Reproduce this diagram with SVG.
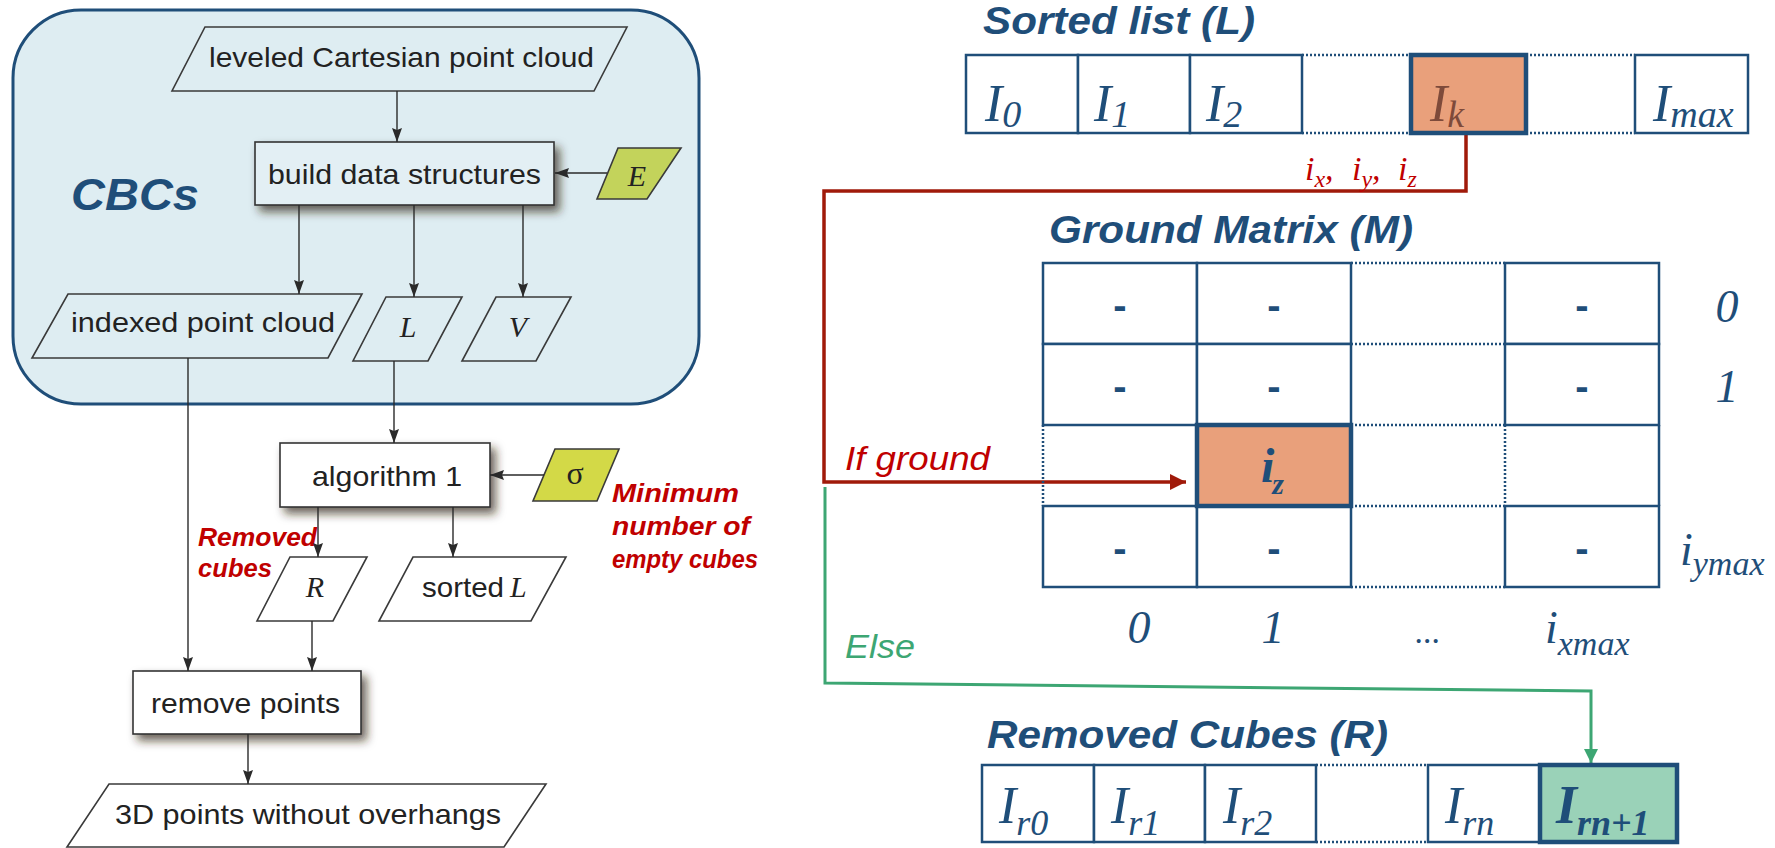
<svg xmlns="http://www.w3.org/2000/svg" width="1775" height="848" viewBox="0 0 1775 848">
<style>
.t{font-family:"Liberation Sans",Arial,sans-serif;font-size:28px;fill:#222}
.m{font-family:"Liberation Serif","Times New Roman",serif;font-style:italic;font-size:30px;fill:#222}
.para{fill:#deedf2;stroke:#3a3a3a;stroke-width:1.6}
.paraw{fill:#fff;stroke:#3a3a3a;stroke-width:1.6}
.box{fill:#fff;stroke:#333;stroke-width:1.6}
.conn{fill:none;stroke:#2a2a2a;stroke-width:1.4}
.red{font-family:"Liberation Sans",Arial,sans-serif;font-weight:bold;font-style:italic;fill:#c00000}
.title{font-family:"Liberation Sans",Arial,sans-serif;font-weight:bold;font-style:italic;font-size:39px;fill:#1f4e79}
.cell{fill:#fff;stroke:#1f4e79;stroke-width:2.5}
.dot{fill:none;stroke:#1f4e79;stroke-width:2.5;stroke-dasharray:2 2}
.I{font-family:"Liberation Serif","Times New Roman",serif;font-style:italic;font-size:52px;fill:#1f4e79}
.ax{font-family:"Liberation Serif","Times New Roman",serif;font-style:italic;font-size:46px;fill:#1f4e79}
.dash{font-family:"Liberation Sans",Arial,sans-serif;font-weight:bold;font-size:40px;fill:#1f4e79;text-anchor:middle}
.idx{font-family:"Liberation Serif","Times New Roman",serif;font-style:italic;font-size:34px;fill:#c00000}
</style>
<defs>
<marker id="ah" markerUnits="userSpaceOnUse" markerWidth="14" markerHeight="10" refX="14" refY="5" orient="auto">
<path d="M0,0 L14,5 L0,10 L2,5 z" fill="#2a2a2a"/>
</marker>
<marker id="ahr" markerUnits="userSpaceOnUse" markerWidth="16" markerHeight="16" refX="16" refY="8" orient="auto">
<path d="M0,0 L16,8 L0,16 z" fill="#a01a0a"/>
</marker>
<marker id="ahg" markerUnits="userSpaceOnUse" markerWidth="14" markerHeight="14" refX="14" refY="7" orient="auto">
<path d="M0,0 L14,7 L0,14 z" fill="#3da673"/>
</marker>
<filter id="sh" x="-20%" y="-30%" width="150%" height="180%">
<feDropShadow dx="5" dy="6" stdDeviation="5" flood-color="#2e2416" flood-opacity="0.7"/>
</filter>
</defs>

<g id="cbcs">
<rect x="13" y="10" width="686" height="394" rx="68" fill="#deedf2" stroke="#1f4e79" stroke-width="3"/>
<text x="71" y="210" class="red" style="fill:#1f4e79;font-size:44px" textLength="128" lengthAdjust="spacingAndGlyphs">CBCs</text>
</g>

<g id="leveled">
<polygon class="para" points="205,27 627,27 594,91 172,91"/>
<text class="t" x="209" y="67" textLength="385" lengthAdjust="spacingAndGlyphs">leveled Cartesian point cloud</text>
</g>

<g id="build">
<rect x="255" y="142" width="299" height="63" fill="#e3eff4" stroke="#333" stroke-width="1.6" filter="url(#sh)"/>
<text class="t" x="268" y="184" textLength="273" lengthAdjust="spacingAndGlyphs">build data structures</text>
</g>

<g id="E">
<polygon points="618,148 681,148 647,199 597,199" fill="#c3d35b" stroke="#3a3a3a" stroke-width="1.6"/>
<text class="m" x="637" y="186" text-anchor="middle">E</text>
</g>

<g id="indexed">
<polygon class="para" points="68,294 362,294 328,358 32,358"/>
<text class="t" x="71" y="332" textLength="264" lengthAdjust="spacingAndGlyphs">indexed point cloud</text>
</g>

<g id="Lnode">
<polygon class="para" points="386,297 462,297 428,361 353,361"/>
<text class="m" x="408" y="337" text-anchor="middle">L</text>
</g>

<g id="Vnode">
<polygon class="para" points="496,297 571,297 536,361 462,361"/>
<text class="m" x="518" y="337" text-anchor="middle">V</text>
</g>

<g id="algorithm">
<rect x="280" y="443" width="210" height="64" class="box" filter="url(#sh)"/>
<text class="t" x="312" y="486" textLength="150" lengthAdjust="spacingAndGlyphs">algorithm 1</text>
</g>

<g id="sigma">
<polygon points="555,449 619,449 597,501 533,501" fill="#d3d947" stroke="#3a3a3a" stroke-width="1.6"/>
<text x="575" y="484" text-anchor="middle" style="font-family:'Liberation Serif',serif;font-size:32px;fill:#222">σ</text>
</g>

<g id="minimum-label">
<text class="red" x="612" y="502" style="font-size:26px" textLength="127" lengthAdjust="spacingAndGlyphs">Minimum</text>
<text class="red" x="612" y="535" style="font-size:26px" textLength="138" lengthAdjust="spacingAndGlyphs">number of</text>
<text class="red" x="612" y="568" style="font-size:26px" textLength="146" lengthAdjust="spacingAndGlyphs">empty cubes</text>
</g>

<g id="removed-label">
<text class="red" x="198" y="546" style="font-size:25px" textLength="119" lengthAdjust="spacingAndGlyphs">Removed</text>
<text class="red" x="198" y="577" style="font-size:25px" textLength="74" lengthAdjust="spacingAndGlyphs">cubes</text>
</g>

<g id="Rnode">
<polygon class="paraw" points="290,557 367,557 333,621 257,621"/>
<text class="m" x="315" y="597" text-anchor="middle">R</text>
</g>

<g id="sortedL">
<polygon class="paraw" points="413,557 566,557 531,621 379,621"/>
<text class="t" x="422" y="597" textLength="82" lengthAdjust="spacingAndGlyphs">sorted</text>
<text class="m" x="510" y="597">L</text>
</g>

<g id="remove">
<rect x="133" y="671" width="228" height="63" class="box" filter="url(#sh)"/>
<text class="t" x="151" y="713" textLength="189" lengthAdjust="spacingAndGlyphs">remove points</text>
</g>

<g id="output">
<polygon class="paraw" points="109,784 546,784 504,847 67,847"/>
<text class="t" x="115" y="824" textLength="386" lengthAdjust="spacingAndGlyphs">3D points without overhangs</text>
</g>

<g id="connectors">
<line class="conn" x1="397" y1="91" x2="397" y2="142" marker-end="url(#ah)"/>
<line class="conn" x1="607" y1="173" x2="555" y2="173" marker-end="url(#ah)"/>
<line class="conn" x1="299" y1="205" x2="299" y2="294" marker-end="url(#ah)"/>
<line class="conn" x1="414" y1="205" x2="414" y2="297" marker-end="url(#ah)"/>
<line class="conn" x1="523" y1="205" x2="523" y2="297" marker-end="url(#ah)"/>
<line class="conn" x1="188" y1="358" x2="188" y2="671" marker-end="url(#ah)"/>
<line class="conn" x1="394" y1="361" x2="394" y2="443" marker-end="url(#ah)"/>
<line class="conn" x1="544" y1="475" x2="490" y2="475" marker-end="url(#ah)"/>
<line class="conn" x1="318" y1="507" x2="318" y2="557" marker-end="url(#ah)"/>
<line class="conn" x1="453" y1="507" x2="453" y2="557" marker-end="url(#ah)"/>
<line class="conn" x1="312" y1="621" x2="312" y2="671" marker-end="url(#ah)"/>
<line class="conn" x1="248" y1="734" x2="248" y2="784" marker-end="url(#ah)"/>
<path d="M1466,135 V191 H824 V482 H1186" fill="none" stroke="#a01a0a" stroke-width="3.5" marker-end="url(#ahr)"/>
<path d="M825,487 V683 L1591,691 V763" fill="none" stroke="#3da673" stroke-width="3" marker-end="url(#ahg)"/>
</g>

<g id="sorted-list">
<text class="title" x="983" y="34" textLength="272" lengthAdjust="spacingAndGlyphs">Sorted list (L)</text>
<rect class="cell" x="966" y="55" width="112" height="78"/>
<rect class="cell" x="1078" y="55" width="112" height="78"/>
<rect class="cell" x="1190" y="55" width="112" height="78"/>
<line class="dot" x1="1302" y1="55" x2="1411" y2="55"/>
<line class="dot" x1="1302" y1="133" x2="1411" y2="133"/>
<rect x="1411" y="55" width="115" height="78" fill="#e9a07b" stroke="#1f4e79" stroke-width="4.5"/>
<line class="dot" x1="1526" y1="55" x2="1635" y2="55"/>
<line class="dot" x1="1526" y1="133" x2="1635" y2="133"/>
<rect class="cell" x="1635" y="55" width="113" height="78"/>
<text class="I" x="985" y="121">I<tspan dy="6" font-size="38">0</tspan></text>
<text class="I" x="1094" y="121">I<tspan dy="6" font-size="38">1</tspan></text>
<text class="I" x="1206" y="121">I<tspan dy="6" font-size="38">2</tspan></text>
<text class="I" x="1430" y="121" style="fill:#7e4a3a">I<tspan dy="6" font-size="38">k</tspan></text>
<text class="I" x="1653" y="121">I<tspan dy="6" font-size="38">max</tspan></text>
<text class="idx" x="1305" y="180">i<tspan dy="7" font-size="24">x</tspan><tspan dy="-7">,</tspan></text>
<text class="idx" x="1352" y="180">i<tspan dy="7" font-size="24">y</tspan><tspan dy="-7">,</tspan></text>
<text class="idx" x="1398" y="180">i<tspan dy="7" font-size="24">z</tspan></text>
</g>

<g id="ground-matrix">
<text class="title" x="1049" y="243" textLength="364" lengthAdjust="spacingAndGlyphs">Ground Matrix (M)</text>
<rect class="cell" x="1043" y="263" width="154" height="81"/>
<rect class="cell" x="1197" y="263" width="154" height="81"/>
<rect class="cell" x="1505" y="263" width="154" height="81"/>
<rect class="cell" x="1043" y="344" width="154" height="81"/>
<rect class="cell" x="1197" y="344" width="154" height="81"/>
<rect class="cell" x="1505" y="344" width="154" height="81"/>
<rect class="cell" x="1043" y="506" width="154" height="81"/>
<rect class="cell" x="1197" y="506" width="154" height="81"/>
<rect class="cell" x="1505" y="506" width="154" height="81"/>
<line class="dot" x1="1351" y1="263" x2="1505" y2="263"/>
<line class="dot" x1="1351" y1="344" x2="1505" y2="344"/>
<line class="dot" x1="1351" y1="425" x2="1505" y2="425"/>
<line class="dot" x1="1351" y1="506" x2="1505" y2="506"/>
<line class="dot" x1="1351" y1="587" x2="1505" y2="587"/>
<line class="dot" x1="1043" y1="425" x2="1043" y2="506"/>
<line class="dot" x1="1505" y1="425" x2="1505" y2="506"/>
<line x1="1659" y1="425" x2="1659" y2="506" stroke="#1f4e79" stroke-width="2.5"/>
<rect x="1197" y="425" width="154" height="81" fill="#e9a07b" stroke="#1f4e79" stroke-width="4.5"/>
<text class="dash" x="1120" y="319">-</text>
<text class="dash" x="1274" y="319">-</text>
<text class="dash" x="1582" y="319">-</text>
<text class="dash" x="1120" y="400">-</text>
<text class="dash" x="1274" y="400">-</text>
<text class="dash" x="1582" y="400">-</text>
<text class="dash" x="1120" y="562">-</text>
<text class="dash" x="1274" y="562">-</text>
<text class="dash" x="1582" y="562">-</text>
<text x="1261" y="482" style="font-family:'Liberation Serif',serif;font-style:italic;font-weight:bold;font-size:48px;fill:#1f4e79">i<tspan dy="12" dx="-2" font-size="30">z</tspan></text>
<text class="ax" x="1727" y="322" text-anchor="middle">0</text>
<text class="ax" x="1727" y="402" text-anchor="middle">1</text>
<text class="ax" x="1680" y="565">i<tspan dy="10" font-size="34">ymax</tspan></text>
<text class="ax" x="1139" y="643" text-anchor="middle">0</text>
<text class="ax" x="1273" y="643" text-anchor="middle">1</text>
<text class="ax" x="1428" y="643" text-anchor="middle" style="font-size:34px">...</text>
<text class="ax" x="1545" y="643">i<tspan dy="12" font-size="34">xmax</tspan></text>
</g>

<g id="branch-labels">
<text x="845" y="470" style="font-family:'Liberation Sans',Arial,sans-serif;font-style:italic;font-size:34px;fill:#c00000" textLength="145" lengthAdjust="spacingAndGlyphs">If ground</text>
<text x="845" y="658" style="font-family:'Liberation Sans',Arial,sans-serif;font-style:italic;font-size:34px;fill:#3da673" textLength="70" lengthAdjust="spacingAndGlyphs">Else</text>
</g>

<g id="removed-cubes">
<text class="title" x="987" y="748" textLength="401" lengthAdjust="spacingAndGlyphs">Removed Cubes (R)</text>
<rect class="cell" x="982" y="765" width="112" height="77"/>
<rect class="cell" x="1094" y="765" width="111" height="77"/>
<rect class="cell" x="1205" y="765" width="111" height="77"/>
<line class="dot" x1="1316" y1="765" x2="1428" y2="765"/>
<line class="dot" x1="1316" y1="842" x2="1428" y2="842"/>
<rect class="cell" x="1428" y="765" width="112" height="77"/>
<rect x="1540" y="765" width="137" height="77" fill="#9ad2b8" stroke="#1f4e79" stroke-width="4.5"/>
<text class="I" x="999" y="823">I<tspan dy="12" font-size="36">r0</tspan></text>
<text class="I" x="1111" y="823">I<tspan dy="12" font-size="36">r1</tspan></text>
<text class="I" x="1223" y="823">I<tspan dy="12" font-size="36">r2</tspan></text>
<text class="I" x="1445" y="823">I<tspan dy="12" font-size="36">rn</tspan></text>
<text class="I" x="1556" y="823" style="font-weight:bold;font-size:54px">I<tspan dy="12" font-size="36">rn+1</tspan></text>
</g>
</svg>
